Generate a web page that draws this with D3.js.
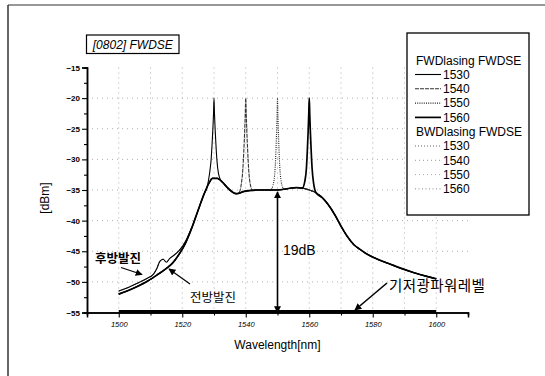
<!DOCTYPE html>
<html><head><meta charset="utf-8">
<script src="https://cdn.jsdelivr.net/npm/d3@7"></script>
<style>body{margin:0;background:#fff}svg{display:block}</style>
</head><body><svg id="c" width="545" height="376"></svg>
<script>
// ASE envelope of the forward spontaneous emission [nm, dBm]
const envelope = [
  [1500,-52.0],[1503,-51.4],[1506,-50.7],[1509,-49.9],[1512,-48.9],[1515,-47.8],
  [1517,-46.9],[1519,-45.5],[1521,-43.7],[1523,-41.2],[1525,-38.3],[1527,-35.5],
  [1528.5,-33.8],[1529.5,-33.1],[1531,-33.1],[1532,-33.4],[1533,-33.9],[1534,-34.5],
  [1535,-35.0],[1536,-35.4],[1537,-35.6],[1538,-35.5],[1539,-35.3],[1541,-35.1],
  [1544,-35.0],[1547,-35.0],[1550,-35.0],[1553,-34.8],[1556,-34.6],[1558,-34.7],
  [1560,-35.0],[1562,-35.4],[1564,-36.2],[1566,-37.4],[1568,-39.0],[1570,-40.9],
  [1572,-42.6],[1574,-43.9],[1576,-44.7],[1578,-45.4],[1581,-46.2],[1585,-47.0],
  [1589,-47.8],[1593,-48.5],[1597,-49.1],[1600,-49.5]
];
// lasing lines for forward lasing at each wavelength
const peak1530 = [[1527.8,-34.6],[1528.6,-32.3],[1529.1,-30],[1529.4,-27.5],[1529.65,-25],[1529.85,-22.5],[1530,-20],[1530.15,-22.5],[1530.35,-25],[1530.6,-27.5],[1530.9,-30],[1531.4,-32.3],[1532.2,-33.5]];
const peak1540 = [[1537.8,-35.5],[1538.6,-34],[1539.1,-31.5],[1539.4,-28.5],[1539.65,-25.5],[1539.85,-22.5],[1540,-20],[1540.15,-22.5],[1540.35,-25.5],[1540.6,-28.5],[1540.9,-31.5],[1541.4,-34],[1542.2,-35.1]];
const peak1550 = [[1547.8,-35.0],[1548.6,-34.2],[1549.1,-32.5],[1549.4,-30],[1549.65,-26.5],[1549.85,-23],[1550,-20],[1550.15,-23],[1550.35,-26.5],[1550.6,-30],[1550.9,-32.5],[1551.4,-34.2],[1552.2,-34.9]];
const peak1560 = [[1557.8,-34.7],[1558.6,-33.6],[1559.1,-31.5],[1559.4,-28.5],[1559.65,-25.5],[1559.85,-22.5],[1560,-20],[1560.15,-22.5],[1560.35,-25.5],[1560.6,-28.5],[1560.9,-31.5],[1561.4,-34],[1562.2,-35.5]];
// short-wavelength branch measured with backward lasing
const bwdBranch = [
  [1500,-51.5],[1503,-50.9],[1506,-50.2],[1509,-49.4],[1511,-48.7],[1512,-47.8],
  [1513,-46.6],[1514,-46.3],[1515,-46.8],[1516,-46.2],[1517,-45.8],[1519,-44.9],
  [1521,-43.4],[1523,-41.1]
];
// base optical power level
const floorLevel = [[1500,-54.85],[1530,-54.85],[1560,-54.85],[1600,-54.85]];

const fwdLabels = ["1530","1540","1550","1560"];
const bwdLabels = ["1530","1540","1550","1560"];
const xTicks = [1500,1520,1540,1560,1580,1600];
const yTicks = [-55,-50,-45,-40,-35,-30,-25,-20,-15];

const fwdStyles = [
  {stroke:"#000", width:1.1, dash:null},
  {stroke:"#333", width:1.1, dash:"4,1"},
  {stroke:"#222", width:1.1, dash:"1,1.2"},
  {stroke:"#000", width:1.7, dash:null}
];
const bwdStyles = [
  {stroke:"#666", width:1, dash:"1,2"},
  {stroke:"#999", width:1, dash:"1,3"},
  {stroke:"#aaa", width:1, dash:"1,3"},
  {stroke:"#888", width:1, dash:"1,2.5"}
];

function withPeak(base, peak){
  const lo = peak[0][0], hi = peak[peak.length-1][0];
  return base.filter(d => d[0] < lo || d[0] > hi).concat(peak).sort((a,b)=>a[0]-b[0]);
}
function withBranch(base, branch){
  const hi = branch[branch.length-1][0];
  return branch.concat(base.filter(d => d[0] > hi));
}

const svg = d3.select("#c");
const x = d3.scaleLinear().domain([1490,1610]).range([87,468]);
const y = d3.scaleLinear().domain([-55,-15]).range([312.5,67.5]);
const font = "'Liberation Sans', Arial, sans-serif";

// page frame
svg.append("line").attr("x1",8).attr("y1",5).attr("x2",545).attr("y2",5).attr("stroke","#333").attr("stroke-width",1.2);
svg.append("line").attr("x1",8).attr("y1",5).attr("x2",8).attr("y2",376).attr("stroke","#333").attr("stroke-width",1.5);

// grid
const grid = svg.append("g").attr("stroke","#999").attr("stroke-width",0.8).attr("stroke-dasharray","1,4");
d3.range(1500,1610,10).forEach(v => grid.append("line").attr("x1",x(v)).attr("x2",x(v)).attr("y1",y(-15)).attr("y2",y(-55)));
yTicks.slice(1,-1).forEach(v => grid.append("line").attr("x1",x(1490)).attr("x2",x(1610)).attr("y1",y(v)).attr("y2",y(v)));

// axes
const xAxis = svg.append("g").attr("transform",`translate(0,${y(-55)})`)
  .call(d3.axisBottom(x).tickValues(xTicks).tickFormat(d3.format("d")).tickSize(5).tickPadding(4));
const xMinor = svg.append("g").attr("transform",`translate(0,${y(-55)})`)
  .call(d3.axisBottom(x).tickValues(d3.range(1490,1611,10).filter(v=>!xTicks.includes(v))).tickFormat("").tickSize(3));
const yAxis = svg.append("g").attr("transform",`translate(${x(1490)},0)`)
  .call(d3.axisLeft(y).tickValues(yTicks).tickFormat(d3.format("d")).tickSize(5).tickPadding(2));
const yMinor = svg.append("g").attr("transform",`translate(${x(1490)},0)`)
  .call(d3.axisLeft(y).tickValues(d3.range(-52.5,-15,5)).tickFormat("").tickSize(3));
[xAxis,xMinor,yAxis,yMinor].forEach(g => {
  g.select(".domain").attr("stroke","#000").attr("stroke-width",1.5);
  g.selectAll(".tick line").attr("stroke","#000").attr("stroke-width",1.1);
});
xAxis.selectAll("text").attr("font-family",font).attr("font-size",7.5).attr("font-style","italic").attr("fill","#000");
yAxis.selectAll("text").attr("font-family",font).attr("font-size",8).attr("font-weight","bold").attr("fill","#000");

svg.append("text").attr("x",277.5).attr("y",349).attr("text-anchor","middle")
  .attr("font-family",font).attr("font-size",12).text("Wavelength[nm]");
svg.append("text").attr("transform","translate(49,198) rotate(-90)").attr("text-anchor","middle")
  .attr("font-family",font).attr("font-size",12).text("[dBm]");

// curves
const line = d3.line().x(d=>x(d[0])).y(d=>y(d[1])).curve(d3.curveMonotoneX);
const plot = svg.append("g").attr("fill","none");
const bwdSeries = bwdLabels.map(() => withBranch(envelope, bwdBranch));
bwdSeries.forEach((s,i) => plot.append("path").attr("d",line(s))
  .attr("stroke",bwdStyles[i].stroke).attr("stroke-width",bwdStyles[i].width).attr("stroke-dasharray",bwdStyles[i].dash));
// outlined backward branch
plot.append("path").attr("d",line(bwdBranch)).attr("stroke","#000").attr("stroke-width",1.1);
const fwdSeries = [peak1530,peak1540,peak1550,peak1560].map(p => withPeak(envelope,p));
fwdSeries.forEach((s,i) => plot.append("path").attr("d",line(s))
  .attr("stroke",fwdStyles[i].stroke).attr("stroke-width",fwdStyles[i].width).attr("stroke-dasharray",fwdStyles[i].dash));
plot.append("path").attr("d",line(floorLevel)).attr("stroke","#000").attr("stroke-width",3.2);

// arrows
const defs = svg.append("defs");
defs.append("marker").attr("id","ah").attr("viewBox","0 0 10 10").attr("refX",9).attr("refY",5)
  .attr("markerWidth",7).attr("markerHeight",7).attr("markerUnits","userSpaceOnUse").attr("orient","auto-start-reverse")
  .append("path").attr("d","M0,0 L10,5 L0,10 z").attr("fill","#000");
svg.append("line").attr("x1",x(1550)).attr("x2",x(1550)).attr("y1",y(-35.3)).attr("y2",y(-55))
  .attr("stroke","#000").attr("stroke-width",1.6).attr("marker-start","url(#ah)").attr("marker-end","url(#ah)");
svg.append("text").attr("x",283).attr("y",254.5).attr("font-family",font).attr("font-size",14).text("19dB");

const kfont = "'Noto Sans CJK KR', sans-serif";
svg.append("line").attr("x1",387).attr("y1",283).attr("x2",355).attr("y2",310)
  .attr("stroke","#000").attr("stroke-width",1.6).attr("marker-end","url(#ah)");
svg.append("text").attr("x",389).attr("y",291).attr("font-family",kfont).attr("font-size",14.5)
  .attr("letter-spacing",0.4).text("기저광파워레벨");
svg.append("line").attr("x1",121).attr("y1",267.5).attr("x2",142).attr("y2",274.5)
  .attr("stroke","#000").attr("stroke-width",1.2).attr("marker-end","url(#ah)");
svg.append("text").attr("x",95).attr("y",263).attr("font-family",kfont).attr("font-size",12.5)
  .attr("font-weight","bold").text("후방발진");
svg.append("line").attr("x1",190).attr("y1",284).attr("x2",169).attr("y2",269)
  .attr("stroke","#000").attr("stroke-width",1.2).attr("marker-end","url(#ah)");
svg.append("text").attr("x",190).attr("y",301.5).attr("font-family",kfont).attr("font-size",12.5)
  .text("전방발진");

// title box
svg.append("rect").attr("x",86.5).attr("y",35).attr("width",92.5).attr("height",18.5)
  .attr("fill","#fff").attr("stroke","#000").attr("stroke-width",1.2);
svg.append("text").attr("x",132.8).attr("y",48.5).attr("text-anchor","middle").attr("font-family",font)
  .attr("font-size",12).attr("font-style","italic").text("[0802] FWDSE");

// legend
const lg = svg.append("g");
lg.append("rect").attr("x",407).attr("y",33).attr("width",122).attr("height",182)
  .attr("fill","#fff").attr("stroke","#000").attr("stroke-width",1.3);
lg.append("text").attr("x",416).attr("y",64.5).attr("font-family",font).attr("font-size",12).text("FWDlasing FWDSE");
fwdLabels.forEach((t,i) => {
  const cy = 74.5 + i*14.3;
  lg.append("line").attr("x1",415).attr("x2",441).attr("y1",cy).attr("y2",cy)
    .attr("stroke",fwdStyles[i].stroke).attr("stroke-width",fwdStyles[i].width).attr("stroke-dasharray",fwdStyles[i].dash);
  lg.append("text").attr("x",443).attr("y",cy+4.3).attr("font-family",font).attr("font-size",12).text(t);
});
lg.append("text").attr("x",416).attr("y",136).attr("font-family",font).attr("font-size",12).text("BWDlasing FWDSE");
bwdLabels.forEach((t,i) => {
  const cy = 146 + i*14.3;
  lg.append("line").attr("x1",415).attr("x2",441).attr("y1",cy).attr("y2",cy)
    .attr("stroke",bwdStyles[i].stroke).attr("stroke-width",bwdStyles[i].width).attr("stroke-dasharray",bwdStyles[i].dash);
  lg.append("text").attr("x",443).attr("y",cy+4.3).attr("font-family",font).attr("font-size",12).text(t);
});
</script></body></html>
